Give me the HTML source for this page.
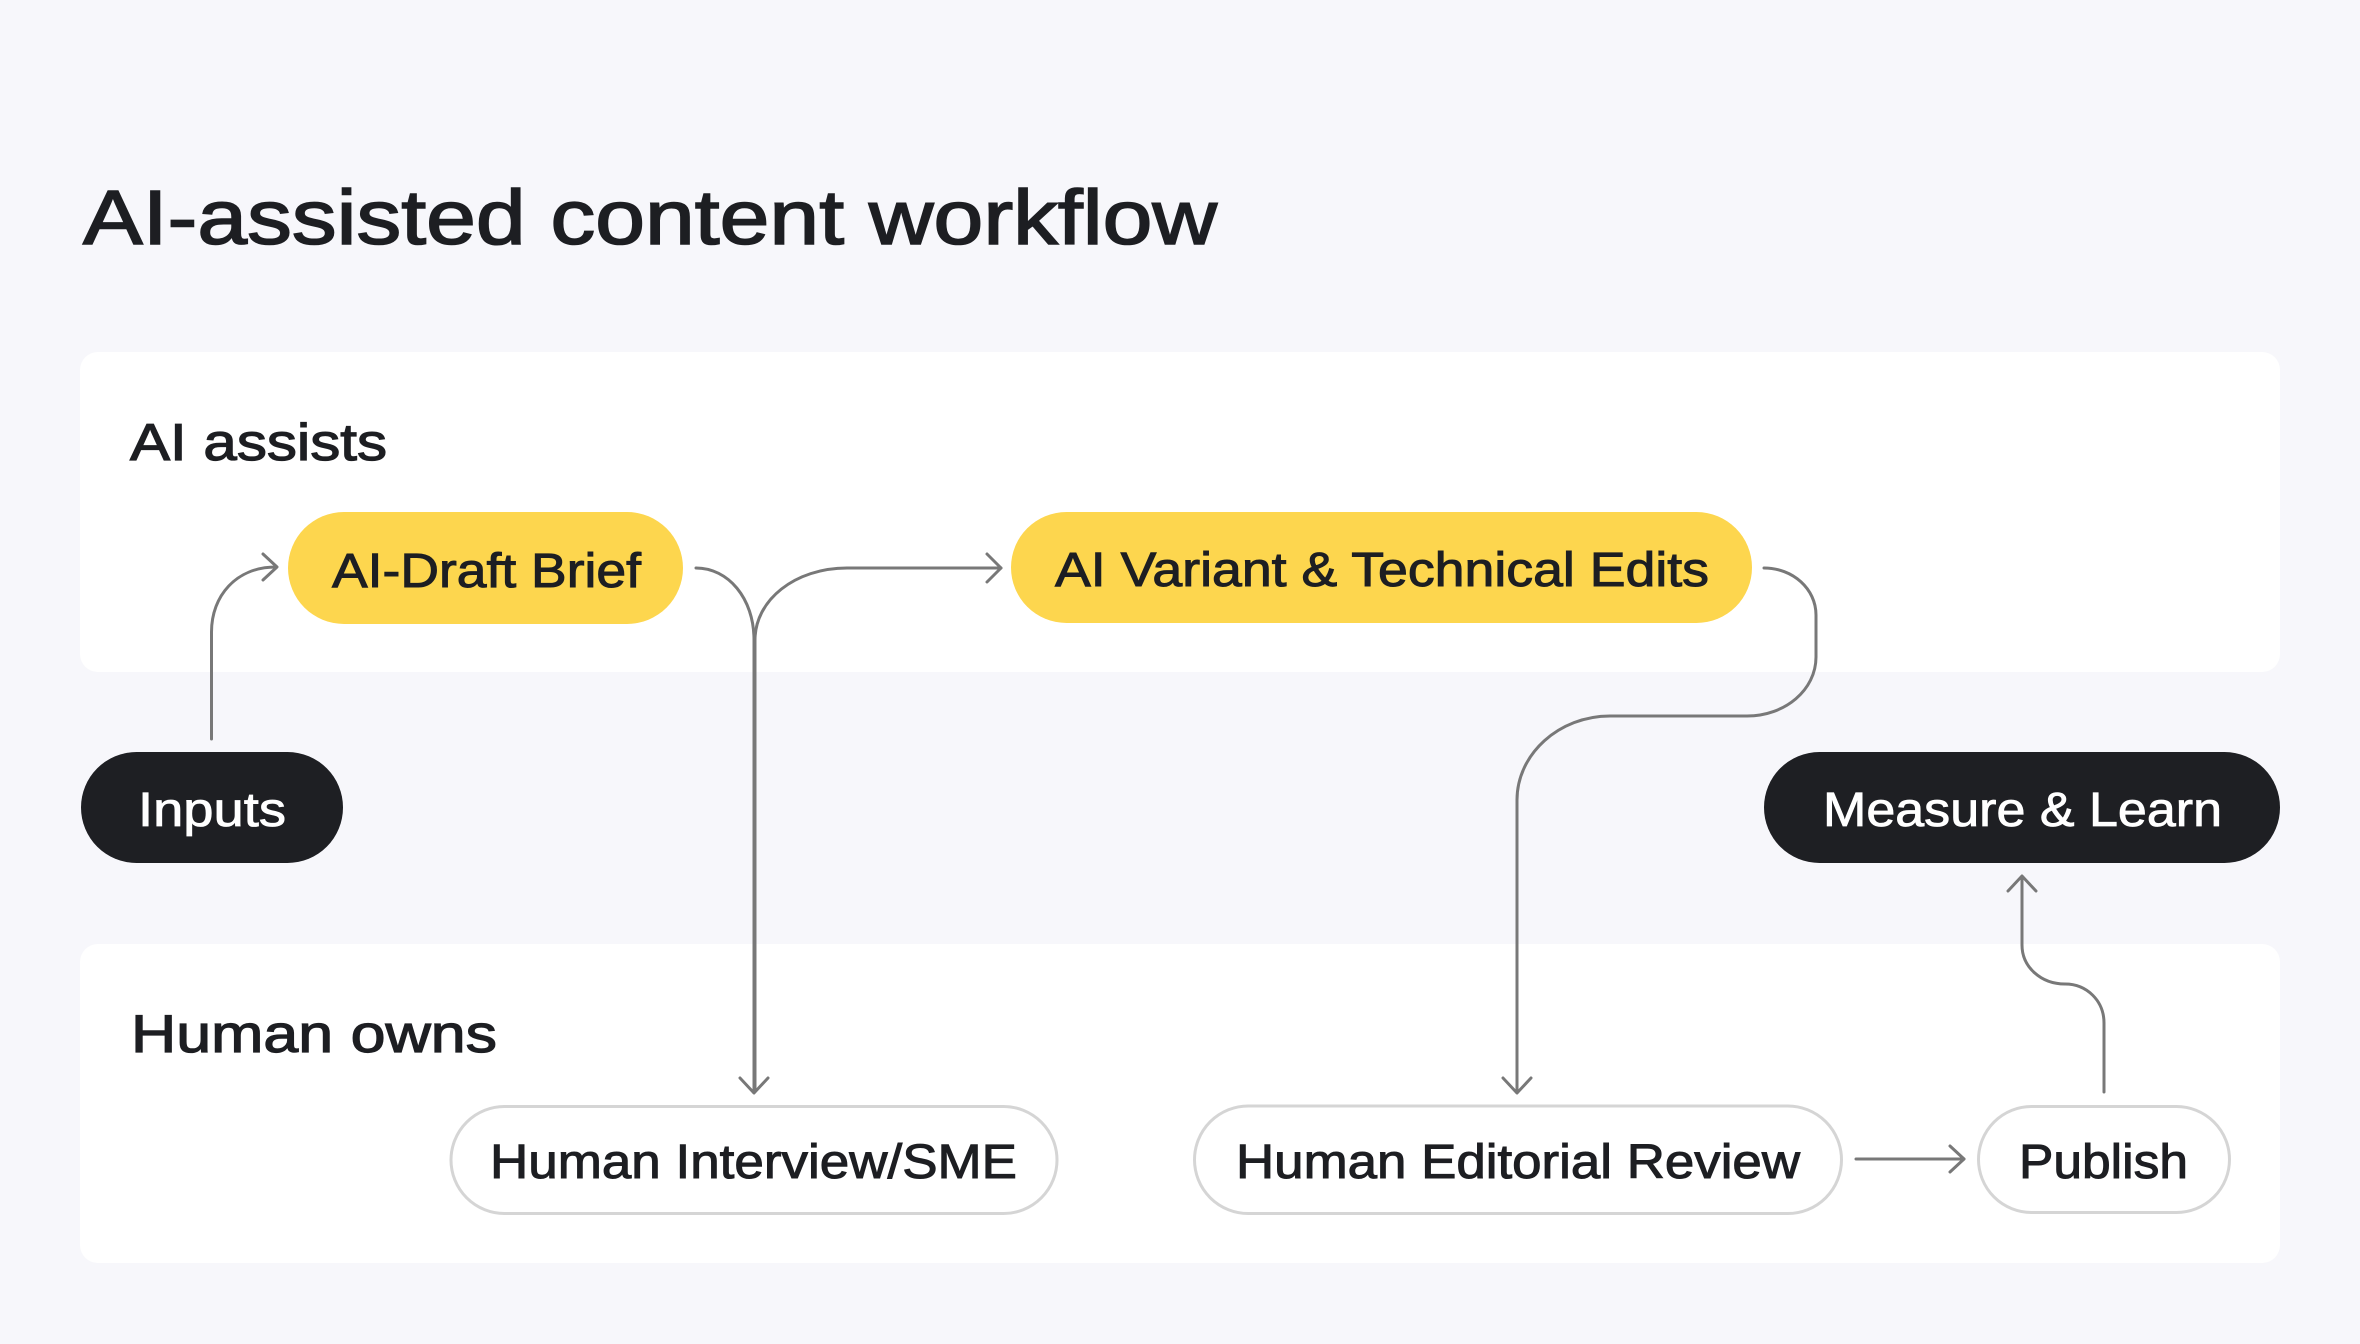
<!DOCTYPE html>
<html>
<head>
<meta charset="utf-8">
<style>
  html, body { margin: 0; padding: 0; background: #f7f7fb; }
  body { width: 2360px; height: 1344px; overflow: hidden; }
  svg { display: block; }
  text { font-family: "Liberation Sans", "DejaVu Sans", sans-serif; }
</style>
</head>
<body>
<svg width="2360" height="1344" viewBox="0 0 2360 1344" xmlns="http://www.w3.org/2000/svg">
  <rect x="0" y="0" width="2360" height="1344" fill="#f7f7fb"/>

  <!-- Title -->
  <text x="83" y="244" font-size="77" fill="#1d1e22" stroke="#1d1e22" stroke-width="1.6" textLength="1134" lengthAdjust="spacingAndGlyphs">AI-assisted content workflow</text>

  <!-- Panels -->
  <rect x="80" y="352" width="2200" height="320" rx="18" ry="18" fill="#ffffff"/>
  <rect x="80" y="944" width="2200" height="319" rx="18" ry="18" fill="#ffffff"/>

  <!-- Panel labels -->
  <text x="130" y="460" font-size="52" fill="#1d1e22" stroke="#1d1e22" stroke-width="1.2" textLength="257" lengthAdjust="spacingAndGlyphs">AI assists</text>
  <text x="131" y="1052" font-size="53" fill="#1d1e22" stroke="#1d1e22" stroke-width="1.2" textLength="366" lengthAdjust="spacingAndGlyphs">Human owns</text>

  <!-- Connectors -->
  <g fill="none" stroke="#787878" stroke-width="3" stroke-linecap="round" stroke-linejoin="round">
    <!-- Inputs -> AI-Draft Brief -->
    <path d="M211.5 739 V632 C211.5 596 236 567 276 567"/>
    <path d="M263 554 L277 567 L263 580"/>

    <!-- AI-Draft Brief -> Human Interview/SME -->
    <path d="M696 568 C728 568 754 598 754 640 V1092"/>
    <path d="M740 1078 L754 1093 L768 1078"/>

    <!-- Human Interview/SME -> AI Variant -->
    <path d="M755 1090 V640 C755 600 795 568 847 568 H1001"/>
    <path d="M987 554 L1001 568 L987 582"/>

    <!-- AI Variant -> Human Editorial Review -->
    <path d="M1764 568 C1793 568 1816 589 1816 615 V657 C1816 690 1785 716 1747 716 H1610 C1559 716 1517 754 1517 800 V1092"/>
    <path d="M1503 1078 L1517 1093 L1531 1078"/>

    <!-- Human Editorial Review -> Publish -->
    <path d="M1856 1159 H1964"/>
    <path d="M1950 1146 L1964 1159 L1950 1172"/>

    <!-- Publish -> Measure & Learn -->
    <path d="M2104 1092 V1023 C2104 1001 2087 984 2065 984 C2041 984 2022 967 2022 945 V877"/>
    <path d="M2008 891 L2022 876 L2036 891"/>
  </g>

  <!-- Nodes -->
  <!-- Inputs -->
  <rect x="81" y="752" width="262" height="111" rx="55.5" ry="55.5" fill="#1e1f23"/>
  <text x="138" y="826" font-size="48" fill="#ffffff" stroke="#ffffff" stroke-width="0.8" textLength="148" lengthAdjust="spacingAndGlyphs">Inputs</text>

  <!-- AI-Draft Brief -->
  <rect x="288" y="512" width="395" height="112" rx="56" ry="56" fill="#fdd64e"/>
  <text x="332" y="587" font-size="48" fill="#1d1e22" stroke="#1d1e22" stroke-width="1" textLength="309" lengthAdjust="spacingAndGlyphs">AI-Draft Brief</text>

  <!-- AI Variant & Technical Edits -->
  <rect x="1011" y="512" width="741" height="111" rx="55.5" ry="55.5" fill="#fdd64e"/>
  <text x="1055" y="586" font-size="48" fill="#1d1e22" stroke="#1d1e22" stroke-width="1" textLength="654" lengthAdjust="spacingAndGlyphs">AI Variant &amp; Technical Edits</text>

  <!-- Measure & Learn -->
  <rect x="1764" y="752" width="516" height="111" rx="55.5" ry="55.5" fill="#1e1f23"/>
  <text x="1823" y="826" font-size="48" fill="#ffffff" stroke="#ffffff" stroke-width="0.8" textLength="399" lengthAdjust="spacingAndGlyphs">Measure &amp; Learn</text>

  <!-- Human Interview/SME -->
  <rect x="451" y="1106.5" width="606" height="107" rx="53.5" ry="53.5" fill="#ffffff" stroke="#d5d5d5" stroke-width="3"/>
  <text x="490" y="1178" font-size="48" fill="#1d1e22" stroke="#1d1e22" stroke-width="1" textLength="527" lengthAdjust="spacingAndGlyphs">Human Interview/SME</text>

  <!-- Human Editorial Review -->
  <rect x="1194.5" y="1106" width="647" height="107.5" rx="53.75" ry="53.75" fill="#ffffff" stroke="#d5d5d5" stroke-width="3"/>
  <text x="1236" y="1178" font-size="48" fill="#1d1e22" stroke="#1d1e22" stroke-width="1" textLength="564" lengthAdjust="spacingAndGlyphs">Human Editorial Review</text>

  <!-- Publish -->
  <rect x="1978.5" y="1106.5" width="251" height="106" rx="53" ry="53" fill="#ffffff" stroke="#d5d5d5" stroke-width="3"/>
  <text x="2019" y="1178" font-size="48" fill="#1d1e22" stroke="#1d1e22" stroke-width="1" textLength="169" lengthAdjust="spacingAndGlyphs">Publish</text>
</svg>
</body>
</html>
